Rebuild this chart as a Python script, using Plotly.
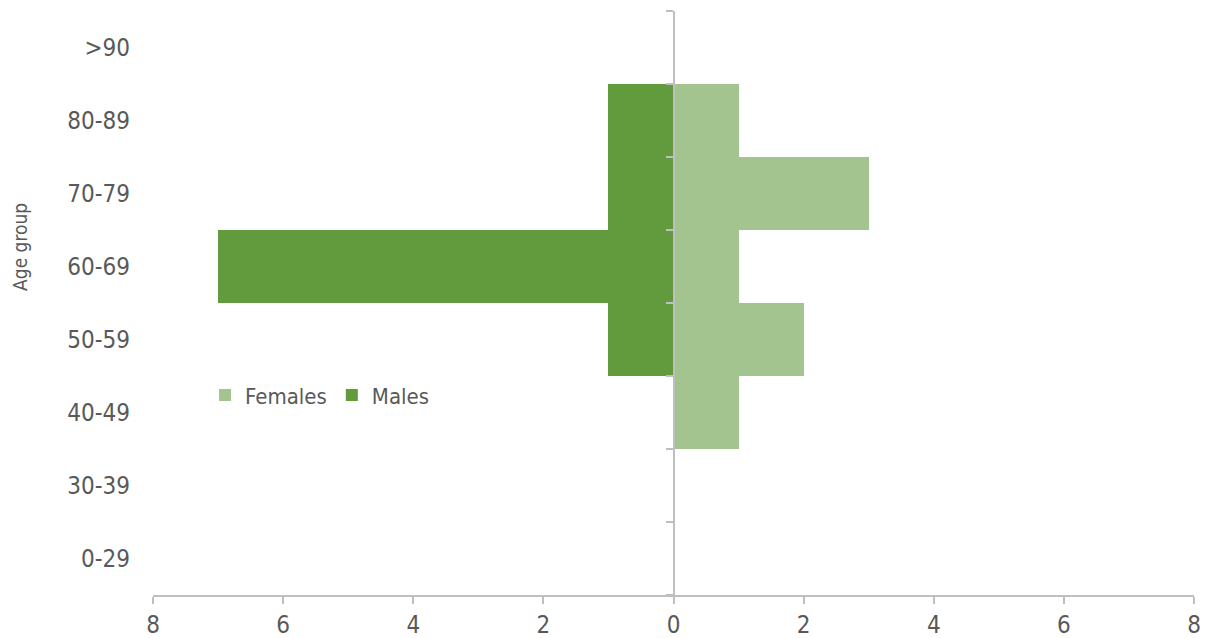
import plotly.graph_objects as go

age_groups = ["0-29", "30-39", "40-49", "50-59", "60-69", "70-79", "80-89", ">90"]
females = [0, 0, 1, 2, 1, 3, 1, 0]
males = [0, 0, 0, 1, 7, 1, 1, 0]
x_tick_values = [-8, -6, -4, -2, 0, 2, 4, 6, 8]
x_tick_labels = ["8", "6", "4", "2", "0", "2", "4", "6", "8"]

FONT = "DejaVu Sans Condensed, DejaVu Sans, sans-serif"
TEXT = "#595959"
LINE = "#BFBFBF"

fig = go.Figure()
fig.add_trace(go.Bar(
    name="Females", y=age_groups, x=females, orientation="h",
    marker=dict(color="#A3C48F", line=dict(width=0)),
    hovertemplate="Females %{y}: %{x}<extra></extra>",
))
fig.add_trace(go.Bar(
    name="Males", y=age_groups, x=[-v for v in males], orientation="h",
    customdata=males,
    marker=dict(color="#629A3E", line=dict(width=0)),
    hovertemplate="Males %{y}: %{customdata}<extra></extra>",
))
# invisible helper trace to carry the centre axis (zero line with category ticks)
fig.add_trace(go.Scatter(
    x=[0] * len(age_groups), y=age_groups, yaxis="y2", mode="markers",
    marker=dict(opacity=0), showlegend=False, hoverinfo="skip",
))

# page body adds an 8px margin, so the figure is 8px smaller than the window
fig.update_layout(
    width=1200, height=630,
    margin=dict(l=145, r=14, t=3, b=43, autoexpand=False),
    paper_bgcolor="white", plot_bgcolor="white",
    barmode="overlay", bargap=0,
    font=dict(family=FONT, color=TEXT, size=24),
    showlegend=True,
    legend=dict(
        orientation="h", x=0.05, y=0.342, xanchor="left", yanchor="middle",
        font=dict(size=22, color=TEXT), bgcolor="rgba(0,0,0,0)",
        itemwidth=30, tracegroupgap=0,
    ),
    xaxis=dict(
        range=[-8, 8], tickvals=x_tick_values, ticktext=x_tick_labels,
        showgrid=False, zeroline=False, showline=True, linecolor=LINE, linewidth=2,
        ticks="outside", ticklen=7, tickcolor=LINE, tickwidth=2,
        tickfont=dict(size=24, color=TEXT), automargin=False,
    ),
    yaxis=dict(
        type="category", categoryorder="array", categoryarray=age_groups,
        range=[-0.5, 7.5], showgrid=False, zeroline=False, showline=False,
        ticks="", ticklabelstandoff=22, automargin=False,
        tickfont=dict(size=24, color=TEXT),
    ),
    yaxis2=dict(
        type="category", categoryorder="array", categoryarray=age_groups,
        range=[-0.5, 7.5], overlaying="y", anchor="free", position=0.5, side="left",
        showgrid=False, zeroline=False, showline=True, linecolor=LINE, linewidth=2,
        ticks="outside", ticklen=7, tickcolor=LINE, tickwidth=2,
        tickson="boundaries", showticklabels=False, automargin=False,
    ),
    annotations=[dict(
        text="Age group", textangle=-90, showarrow=False,
        xref="paper", yref="paper", x=-0.1278, y=0.596,
        xanchor="center", yanchor="middle", borderpad=0,
        font=dict(size=19, color=TEXT, family=FONT),
    )],
)

fig.write_html("out.html")
